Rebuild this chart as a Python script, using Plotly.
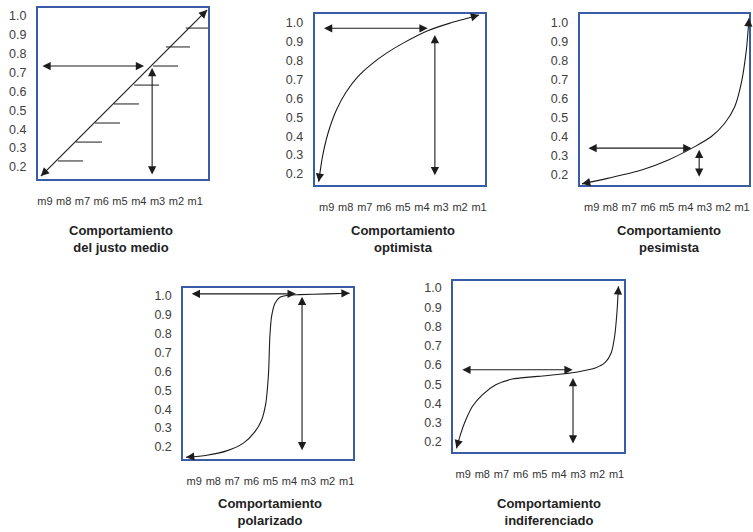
import math
import plotly.graph_objects as go

W, H = 753, 532

# ---------------- data ----------------
x_positions = [0, 1, 2, 3, 4, 5, 6, 7, 8]
x_labels = ["m9", "m8", "m7", "m6", "m5", "m4", "m3", "m2", "m1"]
y_ticks = [0.2, 0.3, 0.4, 0.5, 0.6, 0.7, 0.8, 0.9, 1.0]
y_labels = ["0.2", "0.3", "0.4", "0.5", "0.6", "0.7", "0.8", "0.9", "1.0"]

titles = [
    "Comportamiento<br>del justo medio",
    "Comportamiento<br>optimista",
    "Comportamiento<br>pesimista",
    "Comportamiento<br>polarizado",
    "Comportamiento<br>indiferenciado",
]

# Panel 1: justo medio (diagonal + step marks)
justo_x = [-0.21, 8.64]
justo_y = [0.152, 1.032]
justo_step_level = [0.232, 0.332, 0.433, 0.534, 0.634, 0.735, 0.836, 0.936]
justo_step_start = [0.69, 1.65, 2.67, 3.68, 4.75, 5.76, 6.45, 7.5]
justo_step_end = [2.03, 3.04, 4.0, 5.01, 6.08, 7.09, 7.73, 8.69]

# Panel 2: optimista
opt_x = [-0.42, -0.22, 0.07, 0.51, 1.03, 1.64, 2.34, 3.12, 3.99, 5.30, 6.43, 8.0]
opt_y = [0.159, 0.292, 0.416, 0.539, 0.636, 0.716, 0.781, 0.839, 0.892, 0.959, 0.998, 1.042]

# Panel 3: pesimista
pes_x = [-0.51, 0.90, 2.66, 4.08, 5.49, 6.37, 7.08, 7.61, 7.96, 8.23, 8.37]
pes_y = [0.153, 0.183, 0.226, 0.279, 0.349, 0.402, 0.472, 0.559, 0.683, 0.858, 1.025]

# Panel 4: polarizado
pol_x = [-0.43, 0.66, 1.70, 2.58, 3.19, 3.54, 3.76, 3.85, 3.91, 3.97, 4.06, 4.24, 4.50, 4.93, 5.54, 6.94, 8.16]
pol_y = [0.145, 0.156, 0.179, 0.220, 0.281, 0.343, 0.432, 0.519, 0.608, 0.784, 0.890, 0.961, 0.993, 1.004, 1.007, 1.011, 1.014]

# Panel 5: indiferenciado
ind_x = [-0.35, -0.12, 0.14, 0.48, 1.00, 1.70, 2.56, 3.43, 4.30, 5.16, 6.03, 6.89, 7.41, 7.72, 7.90, 8.02, 8.10]
ind_y = [0.167, 0.245, 0.315, 0.384, 0.445, 0.497, 0.527, 0.537, 0.544, 0.553, 0.565, 0.584, 0.613, 0.662, 0.748, 0.870, 1.009]

curves = [
    (justo_x, justo_y),
    (opt_x, opt_y),
    (pes_x, pes_y),
    (pol_x, pol_y),
    (ind_x, ind_y),
]

# Guide arrows per panel: horizontal (x_from, x_to, level), vertical (x, y_top, y_bottom)
h_from = [-0.21, -0.22, -0.25, -0.21, -0.12]
h_to = [5.28, 5.30, 5.31, 5.33, 5.71]
h_level = [0.735, 0.972, 0.341, 1.011, 0.575]
v_x = [5.71, 5.68, 5.72, 5.66, 5.73]
v_top = [0.725, 0.936, 0.332, 0.996, 0.532]
v_bottom = [0.152, 0.186, 0.183, 0.175, 0.184]

# ---------------- layout geometry (page pixels) ----------------
panels = [
    dict(box=(37, 208, 8, 179), xr=(-0.373, 8.693), yr=(0.1364, 1.0424), tc=(120, 239)),
    dict(box=(315, 486, 14, 185), xr=(-0.627, 8.314), yr=(0.1417, 1.0477), tc=(404, 239)),
    dict(box=(581, 751, 14, 185), xr=(-0.636, 8.371), yr=(0.147, 1.047), tc=(671, 239)),
    dict(box=(183, 353, 288, 459), xr=(-0.575, 8.314), yr=(0.136, 1.042), tc=(270, 512)),
    dict(box=(454, 625, 281, 452), xr=(-0.519, 8.364), yr=(0.148, 1.036), tc=(550, 512)),
]

BLUE = "#3A5CA6"
INK = "#1c1c1c"
FONT = "Liberation Sans, Arial, sans-serif"
AS = 1.5

fig = go.Figure()
annotations = []
layout = {}


def arrow_head(xs, ys, at_end, xref, yref, sx, sy, L=7):
    if at_end:
        x0, y0, x1, y1 = xs[-2], ys[-2], xs[-1], ys[-1]
    else:
        x0, y0, x1, y1 = xs[1], ys[1], xs[0], ys[0]
    dxp = (x1 - x0) * sx
    dyp = -(y1 - y0) * sy
    n = math.hypot(dxp, dyp) or 1.0
    return dict(x=x1, y=y1, xref=xref, yref=yref, ax=-dxp / n * L, ay=-dyp / n * L,
                text="", showarrow=True, arrowhead=2, arrowsize=AS, arrowwidth=1.1,
                arrowcolor=INK)


for i, p in enumerate(panels):
    k = "" if i == 0 else str(i + 1)
    xref, yref = "x" + k, "y" + k
    l, r, t, b = p["box"]
    sx = (r - l) / (p["xr"][1] - p["xr"][0])
    sy = (b - t) / (p["yr"][1] - p["yr"][0])

    layout["xaxis" + k] = dict(
        domain=[l / W, r / W], range=list(p["xr"]), anchor=yref,
        tickmode="array", tickvals=x_positions, ticktext=x_labels,
        tickfont=dict(size=11, color="#333333", family=FONT),
        ticks="outside", ticklen=11, tickcolor="rgba(0,0,0,0)",
        showline=True, mirror=True, linecolor=BLUE, linewidth=2,
        showgrid=False, zeroline=False, fixedrange=True,
    )
    layout["yaxis" + k] = dict(
        domain=[1 - b / H, 1 - t / H], range=list(p["yr"]), anchor=xref,
        tickmode="array", tickvals=y_ticks, ticktext=y_labels,
        tickfont=dict(size=12.5, color="#404040", family=FONT),
        ticks="outside", ticklen=7, tickcolor="rgba(0,0,0,0)",
        showline=True, mirror=True, linecolor=BLUE, linewidth=2,
        showgrid=False, zeroline=False, fixedrange=True,
    )

    cx, cy = curves[i]
    fig.add_trace(go.Scatter(
        x=cx, y=cy, xaxis=xref, yaxis=yref, mode="lines",
        line=dict(color=INK, width=1.1, shape="spline", smoothing=0.7),
        hoverinfo="skip", showlegend=False,
    ))
    annotations.append(arrow_head(cx, cy, True, xref, yref, sx, sy))
    annotations.append(arrow_head(cx, cy, False, xref, yref, sx, sy))

    if i == 0:
        for lv, s0, s1 in zip(justo_step_level, justo_step_start, justo_step_end):
            fig.add_trace(go.Scatter(
                x=[s0, s1], y=[lv, lv], xaxis=xref, yaxis=yref, mode="lines",
                line=dict(color=INK, width=1), hoverinfo="skip", showlegend=False,
            ))

    # horizontal double arrow
    annotations.append(dict(
        x=h_to[i], y=h_level[i], ax=h_from[i], ay=h_level[i],
        xref=xref, yref=yref, axref=xref, ayref=yref, text="", showarrow=True,
        arrowhead=2, startarrowhead=2, arrowside="end+start",
        arrowsize=AS, startarrowsize=AS, arrowwidth=1.1, arrowcolor=INK,
    ))
    # vertical double arrow
    annotations.append(dict(
        x=v_x[i], y=v_top[i], ax=v_x[i], ay=v_bottom[i],
        xref=xref, yref=yref, axref=xref, ayref=yref, text="", showarrow=True,
        arrowhead=2, startarrowhead=2, arrowside="end+start",
        arrowsize=AS, startarrowsize=AS, arrowwidth=1.1, arrowcolor=INK,
    ))

    tx, ty = p["tc"]
    annotations.append(dict(
        x=tx / W, y=1 - ty / H, xref="paper", yref="paper", showarrow=False,
        text="<b>" + titles[i].replace("<br>", "</b><br><b>") + "</b>",
        font=dict(size=13, color="#222222", family=FONT),
        xanchor="center", yanchor="middle", align="center",
    ))

fig.update_layout(
    width=W, height=H, margin=dict(l=0, r=0, t=0, b=0),
    paper_bgcolor="white", plot_bgcolor="white",
    annotations=annotations, showlegend=False, hovermode=False, **layout,
)

fig.write_html(
    "out.html",
    config={"displayModeBar": False, "staticPlot": True},
    post_script="document.body.style.margin='0px';"
                "document.documentElement.style.overflow='hidden';"
                "document.body.style.overflow='hidden';",
)
